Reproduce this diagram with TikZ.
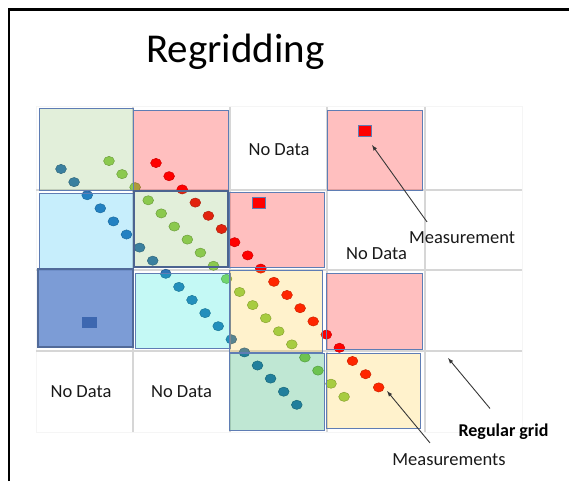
\documentclass[tikz,border=0pt]{standalone}
\usepackage{fontspec}
\setmainfont{Carlito}
\usepackage{tikz}
\usetikzlibrary{positioning}

\definecolor{gridgray}{RGB}{214,214,214}
\definecolor{boxline}{RGB}{95,125,180}
\definecolor{boxgreen}{RGB}{112,173,71}
\definecolor{boxblue}{RGB}{0,176,240}
\definecolor{boxnavy}{RGB}{68,114,196}
\definecolor{boxcyan}{RGB}{0,230,210}
\definecolor{boxyellow}{RGB}{255,192,0}
\definecolor{boxteal}{RGB}{0,160,80}
\definecolor{dotblue}{RGB}{46,117,182}
\definecolor{dotgreen}{RGB}{146,208,80}
\definecolor{textgray}{RGB}{25,25,25}
\definecolor{arrgray}{RGB}{55,55,55}

\begin{document}
\begin{tikzpicture}[x=1pt,y=-1pt,
    cell/.style={draw=boxline,line width=0.9pt},
    reddot/.style={fill=red,draw=red!75!black,line width=0.5pt},
    greendot/.style={fill=dotgreen,draw=dotgreen!75!black,line width=0.5pt},
    bluedot/.style={fill=dotblue,draw=dotblue!75!black,line width=0.5pt},
    lbl/.style={anchor=base,inner sep=0pt,text=textgray,font=\fontsize{18.5}{20}\selectfont},
    arr/.style={-latex,line width=0.9pt,draw=arrgray}]
  \useasboundingbox (0,0) rectangle (569,481);

  % frame
  \draw[line width=2.6pt] (8.8,481) -- (8.8,9.8) -- (569,9.8);

  \node[anchor=base,inner sep=0pt,font=\fontsize{41}{44}\selectfont] (title) at (235.5,63) {Regridding};

  % regular grid
  \draw[gridgray!25,line width=1pt] (36,107) rectangle (522,432);
  \foreach \x in {133,230,327,425}
    \draw[gridgray,line width=1.8pt] (\x,107) -- (\x,432);
  \foreach \y in {190,270,351}
    \draw[gridgray,line width=1.8pt] (36,\y) -- (522,\y);

  % measurement trails
  \foreach \i in {0,...,18}
    \path[bluedot] ({61+13.1*\i},{169+13.1*\i}) ellipse [x radius=5.4pt,y radius=4.6pt];
  \foreach \i in {0,...,18}
    \path[greendot] ({109+13.06*\i},{161+13.1*\i}) ellipse [x radius=5.4pt,y radius=4.6pt];
  \foreach \i in {0,...,17}
    \path[reddot] ({156+13.1*\i},{163+13.2*\i}) ellipse [x radius=5.4pt,y radius=4.6pt];

  % filled cells
  \filldraw[cell,fill=boxgreen,fill opacity=0.2] (39,108) rectangle (133,190);
  \filldraw[cell,fill=red,fill opacity=0.25] (133,110) rectangle (228,190);
  \filldraw[cell,fill=red,fill opacity=0.25] (327,110) rectangle (422,190);
  \filldraw[cell,fill=boxblue,fill opacity=0.22] (39,193) rectangle (133,268);
  \filldraw[cell,draw=boxline!80!black,line width=1.5pt,fill=boxgreen,fill opacity=0.2] (134,191) rectangle (228,267);
  \filldraw[cell,fill=red,fill opacity=0.25] (229,192) rectangle (324,267);
  \filldraw[cell,draw=boxline!85!black,line width=1.2pt,fill=boxnavy,fill opacity=0.7] (38,269) rectangle (133,347);
  \filldraw[cell,fill=boxcyan,fill opacity=0.23] (135,273) rectangle (230,348);
  \filldraw[cell,fill=boxyellow,fill opacity=0.2] (229,270) rectangle (322,352);
  \filldraw[cell,fill=red,fill opacity=0.25] (326,273) rectangle (422,349);
  \filldraw[cell,fill=boxteal,fill opacity=0.25] (229,353) rectangle (324,430);
  \filldraw[cell,fill=boxyellow,fill opacity=0.2] (326,353) rectangle (420,428);

  % single measurements
  \filldraw[fill=red,draw=boxline,line width=0.6pt] (252,197) rectangle (265,208);
  \filldraw[fill=red,draw=boxline,line width=0.6pt] (358,125) rectangle (371,136);
  \fill[boxnavy!90!black] (82,317) rectangle (97,328);

  \node[lbl] (nodataA) at (279,155) {No Data};
  \node[lbl] (nodataB) at (376.5,259) {No Data};
  \node[lbl] (nodataC) at (81,397) {No Data};
  \node[lbl] (nodataD) at (181.5,397) {No Data};

  \node[lbl] (meas) at (462,243) {Measurement};
  \node[lbl] (measts) at (449,465) {Measurements};
  \node[lbl,font=\fontsize{18}{19}\selectfont\bfseries,text=black] (reggrid) at (503.5,436) {Regular grid};

  \coordinate (measTip) at (372,145);
  \coordinate (meastsTip) at (387,391);
  \coordinate (gridTip) at (448,358);

  \draw[arr] ([shift={(-35,-9)}]meas.north) -- (measTip);
  \draw[arr] ([shift={(-19,-10)}]measts.north) -- (meastsTip);
  \draw[arr] ([shift={(-13.5,-14.7)}]reggrid.north) -- (gridTip);
\end{tikzpicture}
\end{document}
